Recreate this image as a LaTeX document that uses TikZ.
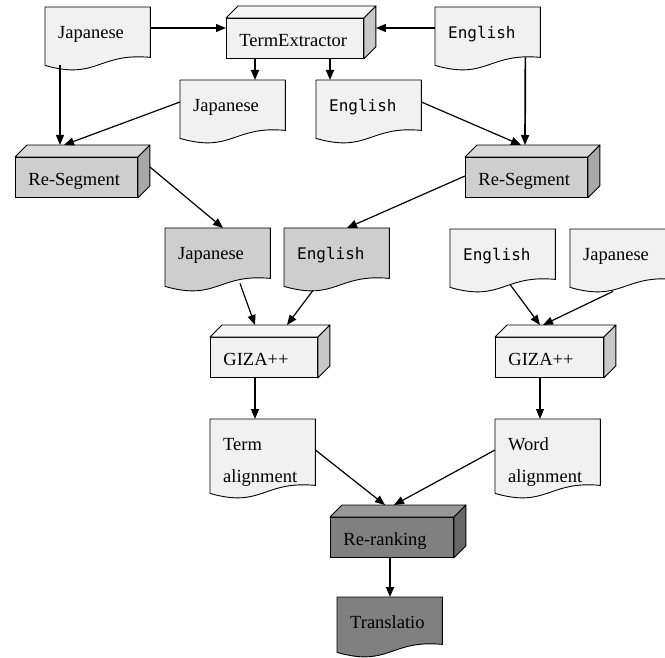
\documentclass[tikz,border=0pt]{standalone}
\usepackage{fontspec}
\setmainfont{Liberation Serif}
\newfontfamily\monofont{DejaVu Sans Mono}
\usetikzlibrary{arrows.meta,backgrounds}
\definecolor{ll}{RGB}{241, 241, 241}
\definecolor{lt}{RGB}{247, 247, 247}
\definecolor{ls}{RGB}{200, 200, 200}
\definecolor{mm}{RGB}{206, 206, 206}
\definecolor{mt}{RGB}{218, 218, 218}
\definecolor{ms}{RGB}{168, 168, 168}
\definecolor{dd}{RGB}{128, 128, 128}
\definecolor{dt}{RGB}{152, 152, 152}
\definecolor{ds}{RGB}{104, 104, 104}

\begin{document}
\begin{tikzpicture}[
  doc/.style={anchor=north west, inner xsep=13pt, inner ysep=0pt, text width=79pt, align=left,
    text height=31pt, text depth=27pt, font=\fontsize{18.5}{32}\selectfont},
  en/.style={font=\monofont\fontsize{16}{20}\selectfont},
  block/.style={anchor=north west, draw, line width=0.9pt, inner xsep=13pt, inner ysep=0pt, text width=#1,
    align=left, text height=28pt, text depth=12pt, font=\fontsize{18.5}{22}\selectfont},
  face/.style={draw, line width=0.9pt, line join=round},
  arr/.style={line width=1.2pt, -{Triangle[length=10pt,width=8pt]}},
  bold/.style={line width=1.7pt}]
\useasboundingbox (0pt, 0pt) rectangle (665pt, -658pt);
% documents
\node (ja1) [doc] at (45pt, -7pt) {Japanese};
\node (en1) [doc, en] at (435pt, -7pt) {English};
\node (ja2) [doc] at (180pt, -80pt) {Japanese};
\node (en2) [doc, en] at (316pt, -80pt) {English};
\node (ja3) [doc] at (165pt, -228pt) {Japanese};
\node (en3) [doc, en] at (284pt, -228pt) {English};
\node (en4) [doc, en] at (450pt, -229pt) {English};
\node (ja4) [doc] at (570pt, -229pt) {Japanese};
\node (term) [doc, text depth=43pt] at (210pt, -419pt) {Term\\alignment};
\node (word) [doc, text depth=43pt] at (495pt, -419pt) {Word\\alignment};
\node (trans) [doc, text depth=24pt] at (337pt, -597pt) {Translatio};
% processes
\node (tex) [block=111pt, fill=ll] at (226pt, -18pt) {TermExtractor};
\node (rsl) [block=96pt, fill=mm] at (15pt, -157pt) {Re-Segment};
\node (rsr) [block=96pt, fill=mm] at (465pt, -157pt) {Re-Segment};
\node (gzl) [block=81pt, fill=ll] at (210pt, -337pt) {GIZA++};
\node (gzr) [block=82pt, fill=ll] at (495pt, -337pt) {GIZA++};
\node (rrk) [block=97pt, fill=dd] at (330pt, -517pt) {Re-ranking};
\foreach \n/\t/\s in {tex/lt/ls, rsl/mt/ms, rsr/mt/ms, gzl/lt/ls, gzr/lt/ls, rrk/dt/ds} {
  \draw [face, fill=\t] (\n.north west) -- ++(12pt, 12pt) -- ([shift={(12pt, 12pt)}]\n.north east) -- (\n.north east) -- cycle;
  \draw [face, fill=\s] (\n.north east) -- ++(12pt, 12pt) -- ([shift={(12pt, 12pt)}]\n.south east) -- (\n.south east) -- cycle;
}
\begin{pgfonlayer}{background}
\foreach \n/\f in {ja1/ll, en1/ll, ja2/ll, en2/ll, ja3/mm, en3/mm, en4/ll, ja4/ll, term/ll, word/ll, trans/dd}
  \draw [face, fill=\f] (\n.north west) -- (\n.north east) -- ([yshift=8pt]\n.south east)
    .. controls +(-52pt, 5pt) and +(52pt, -15pt) .. (\n.south west) -- cycle;
\end{pgfonlayer}
% connectors
\draw [arr] ([yshift=-21pt]ja1.north east) -- ([yshift=-10pt]tex.north west);
\draw [arr] ([yshift=-21pt]en1.north west) -- ([shift={(12pt, -10pt)}]tex.north east);
\draw [arr, bold] ([xshift=29pt]tex.south west) -- ([xshift=75pt]ja2.north west);
\draw [arr, bold] ([xshift=104pt]tex.south west) -- ([xshift=14pt]en2.north west);
\draw [arr] ([xshift=15pt]ja1.south west) -- ([shift={(45pt, 12pt)}]rsl.north west);
\draw [arr] ([yshift=-22pt]ja2.north west) -- ([shift={(49pt, 12pt)}]rsl.north west);
\draw [arr, bold] ([shift={(-15pt, 8pt)}]en1.south east) -- ([shift={(60pt, 12pt)}]rsr.north west);
\draw [arr] ([yshift=-22pt]en2.north east) -- ([shift={(56pt, 12pt)}]rsr.north west);
\draw [arr] ([shift={(12pt, -10pt)}]rsl.north east) -- ([xshift=58pt]ja3.north west);
\draw [arr] ([yshift=-19pt]rsr.north west) -- ([xshift=63pt]en3.north west);
\draw [arr] ([shift={(75pt, 3pt)}]ja3.south west) -- ([shift={(45pt, 12pt)}]gzl.north west);
\draw [arr] ([shift={(29pt, -4pt)}]en3.south west) -- ([shift={(77pt, 12pt)}]gzl.north west);
\draw [arr] ([shift={(60pt, 3pt)}]en4.south west) -- ([shift={(45pt, 12pt)}]gzr.north west);
\draw [arr] ([shift={(43pt, -4pt)}]ja4.south west) -- ([shift={(48pt, 12pt)}]gzr.north west);
\draw [arr, bold] ([xshift=45pt]gzl.south west) -- ([xshift=45pt]term.north west);
\draw [arr] ([xshift=45pt]gzr.south west) -- ([xshift=45pt]word.north west);
\draw [arr] ([yshift=-31pt]term.north east) -- ([shift={(55pt, 12pt)}]rrk.north west);
\draw [arr] ([yshift=-31pt]word.north west) -- ([shift={(64pt, 12pt)}]rrk.north west);
\draw [arr, bold] ([xshift=60pt]rrk.south west) -- ([xshift=53pt]trans.north west);
\end{tikzpicture}
\end{document}
